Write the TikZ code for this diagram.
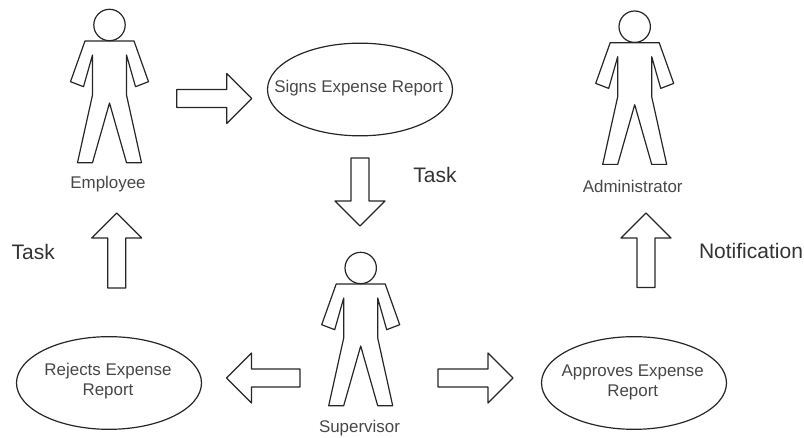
\documentclass[tikz,border=0pt]{standalone}
\usepackage{fontspec}
\setmainfont{Liberation Sans}
\usetikzlibrary{shapes.geometric}
\newcommand{\personfig}[2]{%
  \begin{scope}[shift={(#1,#2)}]
    \draw[figline] (-24.5,0) -- (-39,40.7) -- (-26,45.7) -- (-17,14) -- (-17,54) -- (-32,121.7) -- (-17,121.7) -- (0,62)
      -- (17,121.7) -- (32,121.7) -- (17,54) -- (17,14) -- (26,45.7) -- (39,40.7) -- (24.5,0) -- cycle;
    \draw[figline] (0,-16) circle (15.7);
  \end{scope}}
\newcommand{\blockarrow}[4]{% tail x, tail y, angle, length
  \draw[figline,shift={(#1,#2)},rotate=#3]
    (0,9) -- ({#4-25},9) -- ({#4-25},25) -- (#4,0) -- ({#4-25},-25) -- ({#4-25},-9) -- (0,-9) -- cycle;}
\begin{document}
\begin{tikzpicture}[x=0.75pt,y=-0.75pt,
  figline/.style={draw=black!85,line width=0.9pt,line join=round},
  small/.style={font=\fontsize{12.7}{15}\selectfont,text=black!72,align=center,inner sep=0pt},
  big/.style={font=\fontsize{15.75}{18}\selectfont,text=black!80,inner sep=0pt},
  usecase/.style={figline,ellipse,inner sep=0pt,minimum width=138.75pt,minimum height=69.5pt}]
\useasboundingbox (0,0) rectangle (804,438);
\personfig{109.5}{41}
\personfig{634.7}{42.7}
\personfig{360.7}{284}
\node[small] (emp) at (108,184) {Employee};
\node[small] (adm) at (632.7,186.5) {Administrator};
\node[small] (sup) at (359.5,428) {Supervisor};
\node[usecase] (signs) at (360,89.5) {};
\node[small] (signstext) at (358.5,88) {Signs Expense Report};
\node[usecase] (rejects) at (109,383) {};
\node[small] (rejectstext) at (108,381.5) {Rejects Expense\\Report};
\node[usecase] (approves) at (634,383) {};
\node[small] (approvestext) at (632.7,382) {Approves Expense\\Report};
\blockarrow{176.7}{98.5}{0}{75}
\blockarrow{360}{158}{-90}{68}
\blockarrow{116.7}{288}{90}{75}
\blockarrow{646}{287.5}{90}{74.5}
\blockarrow{300}{378}{180}{73.5}
\blockarrow{438}{378}{0}{75}
\node[big] (task1) at (435,175) {Task};
\node[big] (task2) at (33.3,251.5) {Task};
\node[big] (notif) at (751,250.5) {Notification};
\end{tikzpicture}
\end{document}
